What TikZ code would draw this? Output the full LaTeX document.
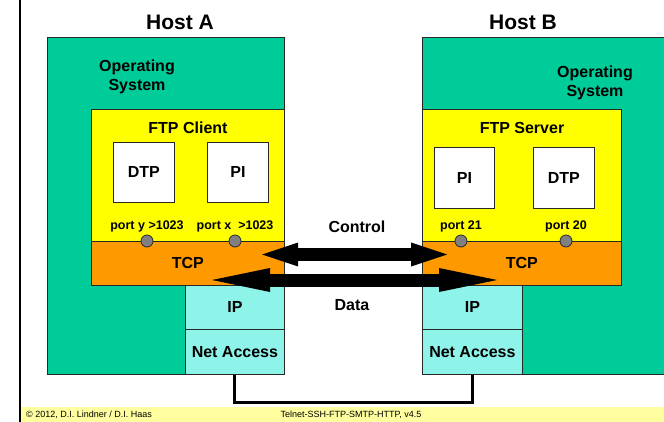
\documentclass[tikz,border=0pt]{standalone}
\usepackage{fontspec}
\setmainfont{Liberation Sans}
\usetikzlibrary{arrows.meta}
\definecolor{osgreen}{RGB}{0,204,153}
\definecolor{ftpyellow}{RGB}{255,255,0}
\definecolor{tcporange}{RGB}{255,153,0}
\definecolor{ipcyan}{RGB}{142,243,233}
\definecolor{portgray}{RGB}{128,128,128}
\definecolor{footyellow}{RGB}{255,255,160}
\definecolor{edge}{RGB}{40,40,40}
\tikzset{
  box/.style={draw=edge, line width=0.8pt, inner sep=0pt, anchor=north west, font=\fontsize{16}{19}\selectfont\bfseries},
  osbox/.style={box, fill=osgreen},
  appbox/.style={box, fill=ftpyellow},
  tcpbox/.style={box, fill=tcporange},
  ipbox/.style={box, fill=ipcyan},
  procbox/.style={box, fill=white},
  title/.style={font=\fontsize{21}{24}\selectfont\bfseries, inner sep=0pt},
  lbl/.style={font=\fontsize{16}{19}\selectfont\bfseries, inner sep=0pt, align=center},
  portlbl/.style={font=\fontsize{12.5}{14}\selectfont\bfseries, inner sep=0pt},
  portdot/.style={circle, draw=edge, fill=portgray, line width=0.8pt, minimum size=12pt, inner sep=0pt},
  foot/.style={font=\fontsize{9}{10}\selectfont, inner sep=0pt},
  bigarrow/.style={line width=13pt, {Triangle[length=#1,width=24pt,line width=0pt]}-{Triangle[length=#1,width=24pt,line width=0pt]}},
  wire/.style={line width=3pt, line join=miter}
}
\begin{document}
\begin{tikzpicture}[x=1pt,y=-1pt]
\useasboundingbox (0,0) rectangle (664,422);
\fill[white] (0,0) rectangle (664,422);
% left rule and footer
\fill[footyellow] (21,407) rectangle (666,423);
\draw[line width=2pt] (20,-2) -- (20,424);
\node[foot, anchor=west] (copy) at (26,414.5) {© 2012, D.I. Lindner / D.I. Haas};
\node[foot] (slide) at (351,414.5) {Telnet-SSH-FTP-SMTP-HTTP, v4.5};
% Host A
\node[title] (hA) at (180,22) {Host A};
\node[osbox, minimum width=237pt, minimum height=337pt] (osA) at (47,37) {};
\node[lbl] (osAl) at (137,77) {Operating\\System};
\node[appbox, minimum width=193pt, minimum height=132pt] (ftpA) at (91,109) {};
\node[lbl] (ftpAl) at (188,128) {FTP Client};
\node[procbox, minimum width=61pt, minimum height=60pt] (dtpA) at (113,142) {DTP};
\node[procbox, minimum width=61pt, minimum height=60pt] (piA) at (207,142) {PI};
\node[tcpbox, minimum width=193pt, minimum height=44pt] (tcpA) at (91,241) {TCP};
\node[ipbox, minimum width=99pt, minimum height=44pt] (ipA) at (185,285) {IP};
\node[ipbox, minimum width=99pt, minimum height=45pt] (naA) at (185,329) {Net Access};
\node[portlbl] (pyA) at (147,226) {port y >1023};
\node[portlbl] (pxA) at (235,226) {port x\ \ >1023};
\node[portdot] (dyA) at (147,241) {};
\node[portdot] (dxA) at (235,241) {};
% Host B
\node[title] (hB) at (523,22) {Host B};
\node[osbox, minimum width=250pt, minimum height=337pt] (osB) at (422,37) {};
\node[lbl] (osBl) at (595,83) {Operating\\System};
\node[appbox, minimum width=199pt, minimum height=132pt] (ftpB) at (422,109) {};
\node[lbl] (ftpBl) at (522,128) {FTP Server};
\node[procbox, minimum width=60pt, minimum height=61pt] (piB) at (434,147) {PI};
\node[procbox, minimum width=61pt, minimum height=61pt] (dtpB) at (533,147) {DTP};
\node[tcpbox, minimum width=199pt, minimum height=44pt] (tcpB) at (422,241) {TCP};
\node[ipbox, minimum width=100pt, minimum height=44pt] (ipB) at (422,285) {IP};
\node[ipbox, minimum width=100pt, minimum height=45pt] (naB) at (422,329) {Net Access};
\node[portlbl] (p21) at (461,226) {port 21};
\node[portlbl] (p20) at (566,226) {port 20};
\node[portdot] (d21) at (461,241) {};
\node[portdot] (d20) at (566,241) {};
% connections
\node[lbl] (ctl) at (357,227) {Control};
\node[lbl] (dat) at (352,305) {Data};
\coordinate (cL) at (262,254.5);
\coordinate (cR) at (447,254.5);
\coordinate (dL) at (212,280);
\coordinate (dR) at (497,280);
\draw[bigarrow=36pt] (cL) -- (cR);
\draw[bigarrow=58pt] (dL) -- (dR);
\draw[wire] (naA.south) -- ++(0,28) -| (naB.south);
\end{tikzpicture}
\end{document}
